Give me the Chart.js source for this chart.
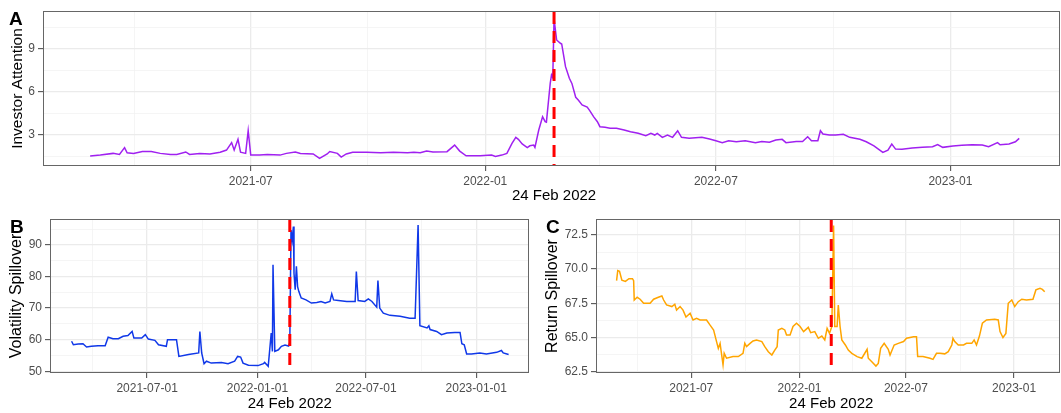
<!DOCTYPE html>
<html>
<head>
<meta charset="utf-8">
<script src="https://cdn.jsdelivr.net/npm/chart.js@4.4.0/dist/chart.umd.min.js"></script>
<style>
  body { margin: 0; background: #fff; width: 1061px; height: 413px; position: relative; overflow: hidden; }
  canvas { position: absolute; }
</style>
</head>
<body>
<canvas id="chartA" width="1061" height="205" style="left:0;top:0"></canvas>
<canvas id="chartB" width="540" height="208" style="left:0;top:205px"></canvas>
<canvas id="chartC" width="521" height="208" style="left:540px;top:205px"></canvas>
<script>
// values
var eventDate = '2022-02-24';
var eventLabel = '24 Feb 2022';

var attentionDates = ['2021-02-25','2021-03-05','2021-03-15','2021-03-20','2021-03-24','2021-03-26','2021-03-31','2021-04-07','2021-04-14','2021-04-21','2021-04-29','2021-05-04','2021-05-11','2021-05-14','2021-05-22','2021-05-30','2021-06-07','2021-06-12','2021-06-16','2021-06-18','2021-06-21','2021-06-23','2021-06-27','2021-06-29','2021-07-01','2021-07-08','2021-07-14','2021-07-24','2021-07-29','2021-08-05','2021-08-09','2021-08-19','2021-08-24','2021-08-30','2021-09-01','2021-09-07','2021-09-10','2021-09-14','2021-09-19','2021-09-30','2021-10-11','2021-10-21','2021-11-01','2021-11-06','2021-11-11','2021-11-16','2021-11-21','2021-12-02','2021-12-08','2021-12-12','2021-12-17','2021-12-28','2022-01-06','2022-01-09','2022-01-14','2022-01-18','2022-01-22','2022-01-25','2022-01-27','2022-01-30','2022-02-03','2022-02-05','2022-02-08','2022-02-09','2022-02-12','2022-02-15','2022-02-17','2022-02-18','2022-02-21','2022-02-22','2022-02-23','2022-02-24','2022-02-26','2022-03-01','2022-03-02','2022-03-05','2022-03-08','2022-03-10','2022-03-13','2022-03-15','2022-03-18','2022-03-22','2022-03-24','2022-03-27','2022-03-30','2022-04-01','2022-04-05','2022-04-09','2022-04-14','2022-04-20','2022-04-25','2022-05-01','2022-05-07','2022-05-11','2022-05-14','2022-05-16','2022-05-20','2022-05-24','2022-05-28','2022-06-01','2022-06-04','2022-06-10','2022-06-20','2022-06-26','2022-07-01','2022-07-06','2022-07-11','2022-07-17','2022-07-24','2022-08-01','2022-08-06','2022-08-12','2022-08-17','2022-08-22','2022-08-25','2022-09-02','2022-09-07','2022-09-11','2022-09-14','2022-09-19','2022-09-21','2022-09-23','2022-09-28','2022-10-03','2022-10-09','2022-10-14','2022-10-22','2022-10-27','2022-11-02','2022-11-09','2022-11-13','2022-11-16','2022-11-19','2022-11-24','2022-12-02','2022-12-10','2022-12-18','2022-12-22','2022-12-26','2023-01-03','2023-01-10','2023-01-18','2023-01-26','2023-01-31','2023-02-07','2023-02-09','2023-02-16','2023-02-21','2023-02-24'];
var attentionValues = [1.53,1.6,1.72,1.65,2.12,1.76,1.72,1.85,1.85,1.72,1.65,1.65,1.82,1.65,1.72,1.68,1.8,1.95,2.47,1.95,2.7,1.8,1.72,3.3,1.6,1.6,1.65,1.6,1.72,1.82,1.72,1.68,1.37,1.68,1.85,1.72,1.46,1.68,1.8,1.8,1.76,1.8,1.76,1.8,1.76,1.88,1.82,1.84,2.3,1.88,1.55,1.55,1.6,1.5,1.6,1.72,2.42,2.84,2.7,2.38,2.13,2.25,2.3,2.14,3.35,4.28,3.93,3.9,6.6,7.19,7.0,11.1,9.63,9.4,9.35,7.77,6.96,6.6,5.63,5.44,5.1,4.95,4.7,4.28,3.93,3.58,3.54,3.47,3.47,3.35,3.23,3.12,2.95,3.12,3.0,3.12,2.84,3.0,2.84,3.3,2.84,2.77,2.84,2.72,2.6,2.47,2.6,2.53,2.6,2.47,2.55,2.5,2.65,2.7,2.47,2.55,2.55,2.88,2.6,2.6,3.3,3.07,3.0,3.0,3.05,2.84,2.7,2.53,2.25,1.79,1.95,2.37,2.02,2.0,2.09,2.14,2.18,2.33,2.14,2.23,2.28,2.32,2.3,2.18,2.47,2.32,2.37,2.53,2.77];

var volatilityDates = ['2021-02-25','2021-02-28','2021-03-08','2021-03-16','2021-03-22','2021-03-30','2021-04-10','2021-04-22','2021-04-27','2021-05-05','2021-05-14','2021-05-22','2021-05-30','2021-06-06','2021-06-09','2021-06-22','2021-06-28','2021-07-03','2021-07-14','2021-07-20','2021-08-02','2021-08-04','2021-08-19','2021-08-23','2021-09-08','2021-09-25','2021-09-27','2021-09-30','2021-10-04','2021-10-08','2021-10-16','2021-11-02','2021-11-13','2021-11-24','2021-11-29','2021-12-04','2021-12-08','2021-12-17','2022-01-02','2022-01-11','2022-01-13','2022-01-19','2022-01-24','2022-01-26','2022-01-27','2022-01-30','2022-02-05','2022-02-10','2022-02-16','2022-02-22','2022-02-24','2022-02-26','2022-02-28','2022-03-02','2022-03-03','2022-03-05','2022-03-07','2022-03-09','2022-03-11','2022-03-15','2022-03-23','2022-04-01','2022-04-10','2022-04-17','2022-04-24','2022-05-02','2022-05-05','2022-05-08','2022-05-16','2022-05-30','2022-06-13','2022-06-15','2022-06-18','2022-06-29','2022-07-05','2022-07-11','2022-07-19','2022-07-21','2022-07-24','2022-07-30','2022-08-10','2022-08-27','2022-09-12','2022-09-21','2022-09-26','2022-09-29','2022-10-11','2022-10-14','2022-10-16','2022-10-27','2022-11-04','2022-11-13','2022-11-26','2022-12-05','2022-12-08','2022-12-12','2022-12-16','2022-12-24','2023-01-07','2023-01-18','2023-02-04','2023-02-12','2023-02-15','2023-02-24'];
var volatilityValues = [59.5,58.4,58.6,58.7,57.7,57.9,58.1,58.1,60.8,60.3,60.3,61.1,61.3,62.6,60.5,60.5,61.6,60.2,59.8,58.4,57.9,60.0,60.0,54.7,55.3,55.8,62.6,55.8,52.4,53.2,52.6,52.8,52.4,53.2,54.7,54.5,52.6,51.9,51.8,52.4,52.8,51.6,62.1,56.3,83.7,56.3,56.8,57.9,58.3,58.0,59.0,94.7,91.6,95.8,81.0,75.8,83.2,76.8,75.3,73.2,72.6,71.6,71.8,72.1,71.6,72.1,74.5,72.6,72.4,72.1,72.1,81.6,72.4,72.1,72.9,72.1,70.3,78.7,70.0,68.4,67.7,67.4,66.8,66.8,96.3,64.4,63.7,64.4,63.2,62.6,61.6,62.1,62.3,62.3,58.7,58.4,55.5,55.5,55.8,55.5,56.0,56.6,55.8,55.3];

var returnDates = ['2021-02-24','2021-02-26','2021-03-01','2021-03-05','2021-03-11','2021-03-17','2021-03-23','2021-03-25','2021-03-26','2021-03-31','2021-04-05','2021-04-11','2021-04-22','2021-04-28','2021-05-06','2021-05-12','2021-05-15','2021-05-20','2021-05-29','2021-06-03','2021-06-06','2021-06-12','2021-06-17','2021-06-22','2021-06-29','2021-07-04','2021-07-10','2021-07-16','2021-07-27','2021-08-02','2021-08-08','2021-08-13','2021-08-16','2021-08-19','2021-08-24','2021-08-26','2021-08-30','2021-09-10','2021-09-19','2021-09-27','2021-09-30','2021-10-03','2021-10-09','2021-10-14','2021-10-20','2021-10-29','2021-11-03','2021-11-09','2021-11-15','2021-11-20','2021-11-24','2021-11-26','2021-12-02','2021-12-07','2021-12-10','2021-12-16','2021-12-21','2021-12-27','2022-01-02','2022-01-08','2022-01-16','2022-01-20','2022-01-27','2022-02-02','2022-02-08','2022-02-13','2022-02-17','2022-02-21','2022-02-25','2022-02-28','2022-03-02','2022-03-06','2022-03-08','2022-03-11','2022-03-14','2022-03-20','2022-03-25','2022-03-31','2022-04-09','2022-04-17','2022-04-26','2022-04-28','2022-05-04','2022-05-11','2022-05-15','2022-05-19','2022-05-25','2022-06-01','2022-06-04','2022-06-11','2022-06-18','2022-06-27','2022-07-02','2022-07-14','2022-07-19','2022-07-21','2022-07-30','2022-08-11','2022-08-16','2022-08-22','2022-08-28','2022-09-05','2022-09-11','2022-09-17','2022-09-19','2022-09-22','2022-09-28','2022-10-07','2022-10-12','2022-10-21','2022-10-25','2022-10-29','2022-11-03','2022-11-08','2022-11-15','2022-11-29','2022-12-05','2022-12-08','2022-12-13','2022-12-18','2022-12-22','2022-12-28','2023-01-02','2023-01-08','2023-01-14','2023-01-22','2023-02-02','2023-02-07','2023-02-14','2023-02-18','2023-02-22'];
var returnValues = [69.16,69.9,69.85,69.2,69.1,69.3,69.3,69.16,67.74,67.94,67.8,67.5,67.5,67.8,67.94,68.04,67.74,67.38,67.26,67.43,67.0,67.26,67.0,66.5,66.77,66.28,66.4,66.28,66.28,65.9,65.55,64.7,64.2,64.57,63.0,63.84,63.48,63.6,63.6,63.84,64.57,64.33,64.57,64.74,64.82,64.7,64.33,63.96,63.72,64.08,64.33,65.55,65.67,65.55,65.18,65.18,65.8,66.04,65.8,65.43,65.74,65.35,65.43,64.94,65.1,64.82,65.67,65.3,65.8,73.2,65.8,65.8,67.38,65.8,64.82,64.45,64.08,63.84,63.6,63.48,64.13,63.48,63.23,62.91,63.1,64.2,64.57,64.13,63.72,64.45,64.57,64.7,64.94,65.06,65.06,63.6,63.6,63.48,63.4,63.84,63.84,63.8,63.96,64.45,64.94,64.7,64.45,64.45,64.57,64.57,64.82,64.45,65.1,66.04,66.28,66.33,66.28,65.43,65.0,65.3,67.5,67.74,67.26,67.62,67.8,67.74,67.8,68.48,68.6,68.52,68.35];

// axis breaks
var monthTickDates = ['2021-07-01','2022-01-01','2022-07-01','2023-01-01'];
var monthTickLabels = ['2021-07','2022-01','2022-07','2023-01'];
var dayTickLabels = ['2021-07-01','2022-01-01','2022-07-01','2023-01-01'];
var minorTickDates = ['2021-04-01','2021-10-01','2022-04-01','2022-10-01'];

var attentionTicks = [3, 6, 9];
var attentionMinor = [1.5, 4.5, 7.5, 10.5];
var volatilityTicks = [50, 60, 70, 80, 90];
var volatilityMinor = [55, 65, 75, 85, 95];
var returnTicks = [62.5, 65, 67.5, 70, 72.5];
var returnMinor = [63.75, 66.25, 68.75, 71.25];

function toDay(s) {
    return Date.parse(s) / 86400000;
}

Chart.defaults.font.family = '"Liberation Sans", Arial, sans-serif';

function tickList(major, labels, minor) {
    var t = [];
    major.forEach(function (v, i) { t.push({ value: v, text: labels[i], minor: false }); });
    minor.forEach(function (v) { t.push({ value: v, text: '', minor: true }); });
    t.sort(function (a, b) { return a.value - b.value; });
    return t;
}

var gridOpts = {
    color: function (c) { return c.tick && c.tick.minor ? '#f3f3f3' : '#ebebeb'; },
    lineWidth: function (c) { return c.tick && c.tick.minor ? 0.8 : 1.3; },
    tickColor: function (c) { return c.tick && c.tick.minor ? 'rgba(0,0,0,0)' : '#444'; },
    tickLength: 5,
    tickWidth: 1
};

var panelDecor = {
    id: 'panelDecor',
    afterDatasetsDraw: function (chart, args, o) {
        var ctx = chart.ctx, a = chart.chartArea;
        var ex = chart.scales.x.getPixelForValue(toDay(eventDate));
        ctx.save();
        // panel border
        ctx.strokeStyle = '#666';
        ctx.lineWidth = 1;
        ctx.strokeRect(a.left + 0.5, a.top + 0.5, a.right - a.left - 1, a.bottom - a.top - 1);
        // event line
        ctx.strokeStyle = '#ff0000';
        ctx.lineWidth = 3;
        ctx.setLineDash([12, 7]);
        ctx.beginPath();
        ctx.moveTo(ex, a.top + 1);
        ctx.lineTo(ex, a.bottom - 1);
        ctx.stroke();
        ctx.setLineDash([]);
        // texts
        ctx.fillStyle = '#000';
        ctx.font = 'bold 19px "Liberation Sans", Arial, sans-serif';
        ctx.textAlign = 'left';
        ctx.textBaseline = 'alphabetic';
        ctx.fillText(o.letter, o.letterX, o.letterY);
        ctx.font = '15px "Liberation Sans", Arial, sans-serif';
        ctx.textAlign = 'center';
        ctx.fillText(eventLabel, ex, o.eventY);
        ctx.font = o.titleSize + 'px "Liberation Sans", Arial, sans-serif';
        ctx.translate(o.titleX, (a.top + a.bottom) / 2);
        ctx.rotate(-Math.PI / 2);
        ctx.textBaseline = 'middle';
        ctx.fillText(o.title, 0, 0);
        ctx.restore();
    }
};

function makePanel(id, cfg) {
    var xt = tickList(monthTickDates.map(toDay), cfg.xLabels, minorTickDates.map(toDay));
    var yt = tickList(cfg.yTicks, cfg.yTicks.map(function (v) { return cfg.yFmt(v); }), cfg.yMinor);
    var points = cfg.dates.map(function (d, i) { return { x: toDay(d), y: cfg.values[i] }; });
    return new Chart(document.getElementById(id), {
        type: 'line',
        data: {
            datasets: [{
                data: points,
                borderColor: cfg.color,
                borderWidth: 1.5,
                pointRadius: 0,
                tension: 0,
                fill: false
            }]
        },
        options: {
            responsive: false,
            animation: false,
            devicePixelRatio: 1,
            layout: { padding: cfg.padding },
            plugins: {
                legend: { display: false },
                tooltip: { enabled: false },
                panelDecor: cfg.decor
            },
            scales: {
                x: {
                    type: 'linear',
                    min: toDay(cfg.xMin),
                    max: toDay(cfg.xMax),
                    afterBuildTicks: function (s) { s.ticks = xt.map(function (t) { return Object.assign({}, t); }); },
                    afterFit: function (s) { s.height = cfg.xHeight; },
                    ticks: {
                        autoSkip: false,
                        maxRotation: 0,
                        padding: 3,
                        color: '#4d4d4d',
                        font: { size: 12 },
                        callback: function (v, i, ticks) { return ticks[i].text; }
                    },
                    grid: gridOpts,
                    border: { display: false }
                },
                y: {
                    min: cfg.yMin,
                    max: cfg.yMax,
                    afterBuildTicks: function (s) { s.ticks = yt.map(function (t) { return Object.assign({}, t); }); },
                    afterFit: function (s) { s.width = cfg.yWidth; },
                    ticks: {
                        autoSkip: false,
                        padding: 3,
                        color: '#4d4d4d',
                        font: { size: 12 },
                        callback: function (v, i, ticks) { return ticks[i].text; }
                    },
                    grid: gridOpts,
                    border: { display: false }
                }
            }
        },
        plugins: [panelDecor]
    });
}

makePanel('chartA', {
    dates: attentionDates, values: attentionValues, color: '#a020f0',
    xLabels: monthTickLabels, xMin: '2021-01-19', xMax: '2023-03-28',
    yTicks: attentionTicks, yMinor: attentionMinor, yMin: 0.84, yMax: 11.65,
    yFmt: function (v) { return String(v); },
    padding: { top: 11, right: 1, left: 0, bottom: 0 }, yWidth: 43, xHeight: 39,
    decor: { letter: 'A', letterX: 9, letterY: 25, title: 'Investor Attention', titleSize: 15.5, titleX: 17.5, eventY: 200 }
});

makePanel('chartB', {
    dates: volatilityDates, values: volatilityValues, color: '#1038e8',
    xLabels: dayTickLabels, xMin: '2021-01-20', xMax: '2023-03-30',
    yTicks: volatilityTicks, yMinor: volatilityMinor, yMin: 49.46, yMax: 98.2,
    yFmt: function (v) { return String(v); },
    padding: { top: 14, right: 11, left: 0, bottom: 0 }, yWidth: 50, xHeight: 40,
    decor: { letter: 'B', letterX: 10, letterY: 28, title: 'Volatility Spillover', titleSize: 16, titleX: 17, eventY: 203 }
});

makePanel('chartC', {
    dates: returnDates, values: returnValues, color: '#ffa500',
    xLabels: monthTickLabels, xMin: '2021-01-20', xMax: '2023-03-20',
    yTicks: returnTicks, yMinor: returnMinor, yMin: 62.4, yMax: 73.67,
    yFmt: function (v) { return v.toFixed(1); },
    padding: { top: 14, right: 1, left: 0, bottom: 0 }, yWidth: 56, xHeight: 40,
    decor: { letter: 'C', letterX: 6, letterY: 28, title: 'Return Spillover', titleSize: 16, titleX: 12.5, eventY: 203 }
});
</script>
</body>
</html>
